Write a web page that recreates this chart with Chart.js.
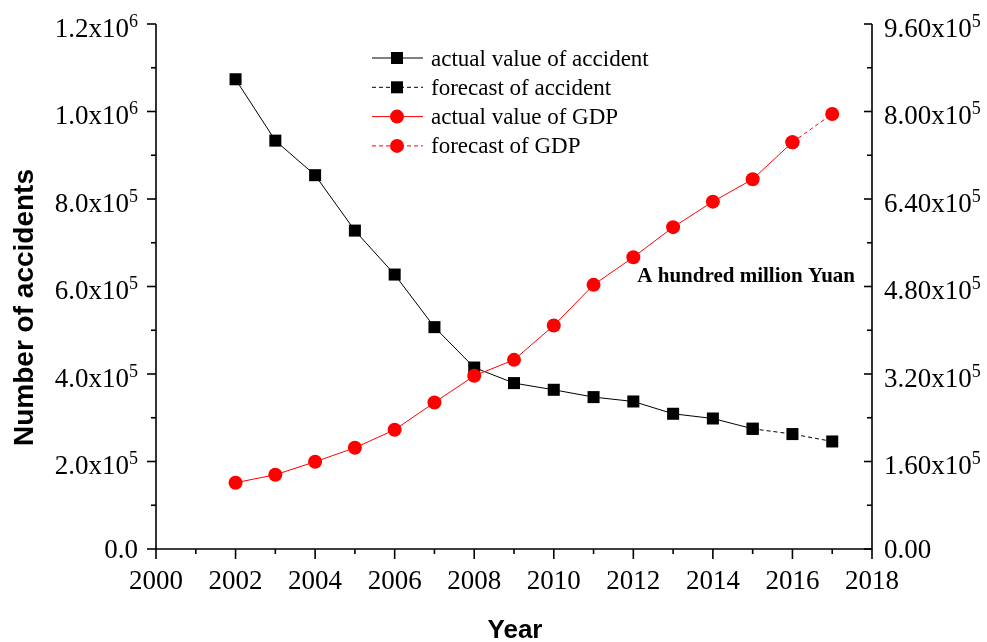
<!DOCTYPE html>
<html>
<head>
<meta charset="utf-8">
<script src="https://cdn.jsdelivr.net/npm/chart.js@4/dist/chart.umd.min.js"></script>
<style>
  html, body { margin: 0; padding: 0; background: #fff; }
  #wrap { width: 987px; height: 642px; }
</style>
</head>
<body>
<div id="wrap"><canvas id="c" width="987" height="642"></canvas></div>
<script>
// Road traffic accidents and GDP (hundred million Yuan), 2002-2017
const years = [2002, 2003, 2004, 2005, 2006, 2007, 2008, 2009, 2010, 2011, 2012, 2013, 2014, 2015, 2016, 2017];
const accidents = [1073700, 933400, 854400, 727800, 627300, 507100, 414800, 379200, 363900, 347200, 337200, 309100, 298300, 274800, 262700, 245800];
const gdp = [121200, 135800, 159500, 185100, 218000, 267900, 316700, 345900, 408600, 483000, 533600, 588500, 635200, 676200, 743800, 795500];
const accidentForecastFrom = 2015;
const gdpForecastFrom = 2016;

const xRange = [2000, 2018, 2];
const leftRange = [0, 1200000, 200000];
const rightRange = [0, 960000, 160000];

const legendLabels = ['actual value of accident', 'forecast of accident', 'actual value of GDP', 'forecast of GDP'];
const unitNote = 'A hundred million Yuan';
const xTitle = 'Year';
const yTitle = 'Number of accidents';

const SERIF = '"Liberation Serif", "Times New Roman", serif';
const SANS = '"Liberation Sans", Arial, sans-serif';

function pick(values, keep) {
  return years.map((yr, i) => ({ x: yr, y: values[i] })).filter(p => keep(p.x));
}

const black = '#000000';
const red = '#ff0000';
const dash = [4, 3];

const datasets = [
  { label: legendLabels[0], data: pick(accidents, yr => yr <= accidentForecastFrom), yAxisID: 'y',
    borderColor: black, backgroundColor: black, borderWidth: 1, pointStyle: 'rect', pointRadius: 8.5,
    pointBorderWidth: 0, pointBackgroundColor: black, order: 2 },
  { label: legendLabels[1], data: pick(accidents, yr => yr >= accidentForecastFrom), yAxisID: 'y',
    borderColor: black, backgroundColor: black, borderWidth: 1, borderDash: dash, pointStyle: 'rect', pointRadius: 8.5,
    pointBorderWidth: 0, pointBackgroundColor: black, order: 2 },
  { label: legendLabels[2], data: pick(gdp, yr => yr <= gdpForecastFrom), yAxisID: 'y1',
    borderColor: red, backgroundColor: red, borderWidth: 1, pointStyle: 'circle', pointRadius: 7,
    pointBorderWidth: 0, pointBackgroundColor: red, order: 1 },
  { label: legendLabels[3], data: pick(gdp, yr => yr >= gdpForecastFrom), yAxisID: 'y1',
    borderColor: red, backgroundColor: red, borderWidth: 1, borderDash: dash, pointStyle: 'circle', pointRadius: 7,
    pointBorderWidth: 0, pointBackgroundColor: red, order: 1 }
];

// Split a tick value into mantissa and power of ten, e.g. 1.2 and 6
function sciParts(v, decimals) {
  if (v === 0) return [(0).toFixed(decimals), null];
  const e = Math.floor(Math.log10(v) + 1e-9);
  return [(v / Math.pow(10, e)).toFixed(decimals) + 'x10', String(e)];
}

const TICK_FONT = '27px ' + SERIF;
const SUP_FONT = '18px ' + SERIF;

function drawSci(ctx, parts, xPos, tickY, align) {
  const [main, sup] = parts;
  ctx.font = TICK_FONT;
  const wMain = ctx.measureText(main).width;
  let wSup = 0;
  if (sup) { ctx.font = SUP_FONT; wSup = ctx.measureText(sup).width; }
  const start = align === 'right' ? xPos - wMain - wSup : xPos;
  const base = sup ? tickY + 12.5 : tickY + 9;
  ctx.textAlign = 'left';
  ctx.textBaseline = 'alphabetic';
  ctx.font = TICK_FONT;
  ctx.fillText(main, start, base);
  if (sup) {
    ctx.font = SUP_FONT;
    ctx.fillText(sup, start + wMain, base - 10);
  }
}

function seg(ctx, x1, y1, x2, y2) {
  ctx.beginPath(); ctx.moveTo(x1, y1); ctx.lineTo(x2, y2); ctx.stroke();
}

const frame = {
  id: 'frame',
  afterDraw(chart) {
    const ctx = chart.ctx;
    const a = chart.chartArea;
    const sx = chart.scales.x, sy = chart.scales.y, sy1 = chart.scales.y1;
    ctx.save();
    ctx.strokeStyle = black;
    ctx.fillStyle = black;
    ctx.lineWidth = 1.6;

    // axis lines: left, bottom, right (open top)
    ctx.beginPath();
    ctx.moveTo(a.left, a.top);
    ctx.lineTo(a.left, a.bottom);
    ctx.lineTo(a.right, a.bottom);
    ctx.lineTo(a.right, a.top);
    ctx.stroke();

    // bottom axis: major ticks out, minor halfway
    const xs = xRange[2];
    sx.ticks.forEach((t, i) => {
      const px = sx.getPixelForValue(t.value);
      seg(ctx, px, a.bottom, px, a.bottom + 10);
      if (i < sx.ticks.length - 1) {
        const pm = sx.getPixelForValue(t.value + xs / 2);
        seg(ctx, pm, a.bottom, pm, a.bottom + 5);
      }
      ctx.font = TICK_FONT;
      ctx.textAlign = 'center';
      ctx.textBaseline = 'alphabetic';
      ctx.fillText(String(t.value), px, a.bottom + 40);
    });

    // left axis: ticks outward
    const ls = leftRange[2];
    sy.ticks.forEach((t, i) => {
      const py = sy.getPixelForValue(t.value);
      seg(ctx, a.left, py, a.left - 9, py);
      if (i < sy.ticks.length - 1) {
        const pm = sy.getPixelForValue(t.value + ls / 2);
        seg(ctx, a.left, pm, a.left - 5, pm);
      }
      drawSci(ctx, sciParts(t.value, 1), a.left - 18, py, 'right');
    });

    // right axis: ticks inward
    const rs = rightRange[2];
    sy1.ticks.forEach((t, i) => {
      const py = sy1.getPixelForValue(t.value);
      seg(ctx, a.right, py, a.right - 8, py);
      if (i < sy1.ticks.length - 1) {
        const pm = sy1.getPixelForValue(t.value + rs / 2);
        seg(ctx, a.right, pm, a.right - 5, pm);
      }
      drawSci(ctx, sciParts(t.value, 2), a.right + 12, py, 'left');
    });

    // axis titles
    ctx.font = 'bold 26px ' + SANS;
    ctx.textAlign = 'center';
    ctx.textBaseline = 'alphabetic';
    ctx.fillText(xTitle, (a.left + a.right) / 2 + 1, a.bottom + 89);

    ctx.save();
    ctx.translate(33, (a.top + a.bottom) / 2 + 21);
    ctx.rotate(-Math.PI / 2);
    ctx.font = 'bold 28px ' + SANS;
    ctx.fillText(yTitle, 0, 0);
    ctx.restore();

    // unit note for the right axis
    ctx.font = 'bold 21px ' + SERIF;
    ctx.textAlign = 'right';
    ctx.fillText(unitNote, a.right - 17, a.top + 258);

    // legend: line sample with marker, then label
    const lx0 = a.left + 216, lx1 = a.left + 267, mx = a.left + 241, tx = a.left + 275;
    chart.data.datasets.forEach((ds, i) => {
      const cy = a.top + 34 + i * 29.3;
      ctx.save();
      ctx.strokeStyle = ds.borderColor;
      ctx.lineWidth = 1;
      ctx.setLineDash(ds.borderDash || []);
      seg(ctx, lx0, cy, lx1, cy);
      ctx.restore();
      ctx.fillStyle = ds.pointBackgroundColor;
      if (ds.pointStyle === 'rect') {
        ctx.fillRect(mx - 6, cy - 6, 12, 12);
      } else {
        ctx.beginPath(); ctx.arc(mx, cy, 7, 0, Math.PI * 2); ctx.fill();
      }
      ctx.fillStyle = black;
      ctx.font = '23px ' + SERIF;
      ctx.textAlign = 'left';
      ctx.textBaseline = 'alphabetic';
      ctx.fillText(ds.label, tx, cy + 7.5);
    });

    ctx.restore();
  }
};

new Chart(document.getElementById('c'), {
  type: 'line',
  data: { datasets },
  options: {
    responsive: false,
    devicePixelRatio: 1,
    animation: false,
    events: [],
    layout: { padding: { top: 24, left: 0, right: 0, bottom: 0 } },
    plugins: { legend: { display: false }, tooltip: { enabled: false } },
    scales: {
      x: {
        type: 'linear', min: xRange[0], max: xRange[1],
        ticks: { display: false, stepSize: xRange[2] },
        grid: { display: false }, border: { display: false },
        afterFit(s) { s.height = 93; }
      },
      y: {
        type: 'linear', position: 'left', min: leftRange[0], max: leftRange[1],
        ticks: { display: false, stepSize: leftRange[2] },
        grid: { display: false }, border: { display: false },
        afterFit(s) { s.width = 156; }
      },
      y1: {
        type: 'linear', position: 'right', min: rightRange[0], max: rightRange[1],
        ticks: { display: false, stepSize: rightRange[2] },
        grid: { display: false }, border: { display: false },
        afterFit(s) { s.width = 115; }
      }
    }
  },
  plugins: [frame]
});
</script>
</body>
</html>
